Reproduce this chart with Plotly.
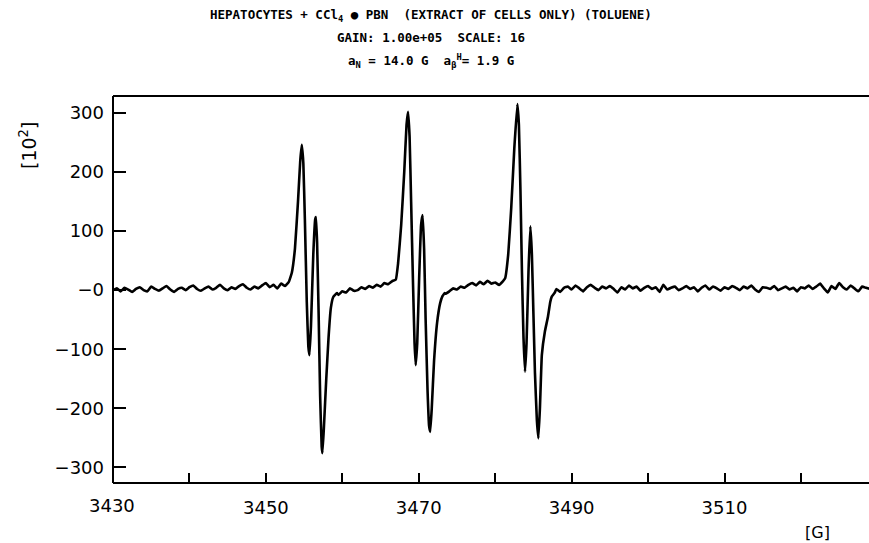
import plotly.graph_objects as go

# ---------------- data ----------------
base_start_A = 3430.0
base_vals_A = [0, 3, -2, 4, 1, -3, 2, 5, 0, -2, 6, 2, -1, 3, 7, 1, -3, 2, 4, 0, 5, 8, 2, -1,
               3, 6, 1, 4, 9, 3, 0, 5, 2, 7, 10, 4, 1, 6, 3, 8, 12, 5, 9, 3, 11, 7, 14]

peak1_field = [3453.4, 3453.8, 3454.2, 3454.5, 3454.7, 3454.9, 3455.1, 3455.35, 3455.55, 3455.7,
               3455.9, 3456.2, 3456.45, 3456.55, 3456.7, 3456.9, 3457.1, 3457.3, 3457.4, 3457.6,
               3457.9, 3458.2, 3458.5, 3458.8, 3459.3]
peak1_int = [30, 70, 150, 220, 246, 215, 120, -20, -95, -110,
             -60, 60, 120, 124, 80, -40, -180, -265, -276, -230,
             -150, -80, -30, -12, -5]

base_start_B = 3459.5
base_vals_B = [-8, -2, -4, 3, -1, 0, 5, 2, 7, 4, 9, 6, 12, 10, 15, 18]

peak2_field = [3467.3, 3467.7, 3468.1, 3468.4, 3468.6, 3468.8, 3469.0, 3469.25, 3469.45, 3469.6,
               3469.8, 3470.05, 3470.3, 3470.5, 3470.7, 3470.9, 3471.15, 3471.35, 3471.5, 3471.7,
               3472.0, 3472.4, 3472.8, 3473.1, 3473.4]
peak2_int = [46, 110, 200, 280, 302, 260, 150, 10, -90, -127,
             -90, 20, 110, 127, 70, -50, -170, -230, -240, -200,
             -120, -55, -22, -10, -5]

base_start_C = 3473.5
base_vals_C = [-6, -2, 3, 1, 6, 4, 9, 12, 8, 14, 10, 16, 11, 13, 9, 15]

peak3_field = [3481.3, 3481.7, 3482.1, 3482.5, 3482.9, 3483.1, 3483.3, 3483.5, 3483.7, 3483.9,
               3484.1, 3484.35, 3484.6, 3484.8, 3485.0, 3485.2, 3485.45, 3485.65, 3485.85, 3486.1,
               3486.5, 3486.9, 3487.2, 3487.4, 3487.8]
peak3_int = [20, 60, 140, 240, 315, 280, 170, 30, -80, -138,
             -90, 30, 108, 60, -40, -140, -220, -251, -200, -110,
             -70, -45, -20, -11, -4]

base_start_D = 3488.0
base_vals_D = [2, -3, 4, 6, 1, 8, 3, -2, 5, 9, 4, 0, 6, 3, 7, 2, -4, 5, 1, 8,
               3, 6, -1, 4, 7, 2, 5, -3, 9, 1, 4, 6, 0, 3, 7, 2, 5, -2, 4, 8,
               1, 6, 3, -1, 5, 2, 7, 4, 0, 6, 3, 8, 1, -3, 5, 4, 2, 7, 0, 3,
               6, 1, 4, -2, 5, 3, 8, 2, 6, 11, 3, -4, 7, 2, 12, 5, 1, 8, 3, -2, 6, 4, 2]
base_step = 0.5

x_tickvals = [3440, 3450, 3460, 3470, 3480, 3490, 3500, 3510, 3520]
x_ticktext = ["", "3450", "", "3470", "", "3490", "", "3510", ""]
y_tickvals = [300, 200, 100, 0, -100, -200, -300]
y_ticktext = ["300", "200", "100", "\u22120", "\u2212100", "\u2212200", "\u2212300"]


def seg(start, vals):
    return [start + i * base_step for i in range(len(vals))], list(vals)


field, inten = [], []
for f, v in [seg(base_start_A, base_vals_A), (peak1_field, peak1_int),
             seg(base_start_B, base_vals_B), (peak2_field, peak2_int),
             seg(base_start_C, base_vals_C), (peak3_field, peak3_int),
             seg(base_start_D, base_vals_D)]:
    field += f
    inten += v

# ---------------- figure ----------------
fig = go.Figure()
fig.add_trace(go.Scatter(x=field, y=inten, mode="lines",
                         line=dict(color="black", width=2.6, shape="spline", smoothing=0.3),
                         showlegend=False, hoverinfo="skip"))

L, T, W, H = 113, 96, 756, 387
fig.update_layout(
    template="none",
    width=869, height=543,
    margin=dict(l=L, r=0, t=T, b=543 - T - H, autoexpand=False),
    paper_bgcolor="white", plot_bgcolor="white",
    font=dict(family="DejaVu Sans", color="black", size=18),
)
fig.update_xaxes(range=[3430, 3528.9], showgrid=False, zeroline=False,
                 showline=False,
                 ticks="inside", ticklen=10, tickwidth=1.5, tickcolor="black",
                 tickvals=x_tickvals, ticktext=x_ticktext,
                 tickfont=dict(size=18, family="DejaVu Sans"), ticklabelstandoff=12)
fig.update_yaxes(range=[-326.6, 328.8], showgrid=False, zeroline=False,
                 showline=False,
                 ticks="inside", ticklen=13, tickwidth=1.5, tickcolor="black",
                 tickvals=y_tickvals, ticktext=y_ticktext,
                 tickfont=dict(size=18, family="DejaVu Sans"), ticklabelstandoff=8)

# frame: left, bottom and top lines (no right edge line in the reference)
for x0, y0, x1, y1 in [(0, 0, 1, 0), (0, 1, 1, 1), (0, 0, 0, 1)]:
    fig.add_shape(type="line", xref="paper", yref="paper", x0=x0, x1=x1, y0=y0, y1=y1,
                  line=dict(color="black", width=2))


def px_x(px):
    return (px - L) / W


def px_y(py):
    return 1 - (py - T) / H


tfont = dict(family="DejaVu Sans Mono", size=12.5, color="black", weight="bold")
titles = [
    ("HEPATOCYTES + CCl<sub>4</sub> \u25cf PBN  (EXTRACT OF CELLS ONLY) (TOLUENE)", 15),
    ("GAIN: 1.00e+05  SCALE: 16", 38),
    ("a<sub>N</sub> = 14.0 G  a<sub>\u03b2</sub><sup>H</sup>= 1.9 G", 61),
]
for txt, py in titles:
    fig.add_annotation(text=txt, xref="paper", yref="paper", x=px_x(431), y=px_y(py),
                       xanchor="center", yanchor="middle", showarrow=False, font=tfont)

fig.add_annotation(text="[10<sup>2</sup>]", xref="paper", yref="paper",
                   x=px_x(28), y=px_y(146), textangle=-90, xanchor="center", yanchor="middle",
                   showarrow=False, font=dict(family="DejaVu Sans", size=19, color="black"))
fig.add_annotation(text="[G]", xref="paper", yref="paper",
                   x=px_x(817), y=px_y(532), xanchor="center", yanchor="middle",
                   showarrow=False, font=dict(family="DejaVu Sans", size=16, color="black"))
fig.add_annotation(text="3430", xref="paper", yref="paper",
                   x=px_x(112), y=px_y(505), xanchor="center", yanchor="middle",
                   showarrow=False, font=dict(family="DejaVu Sans", size=18, color="black"))

fig.write_html("out.html", config={"displayModeBar": False})
